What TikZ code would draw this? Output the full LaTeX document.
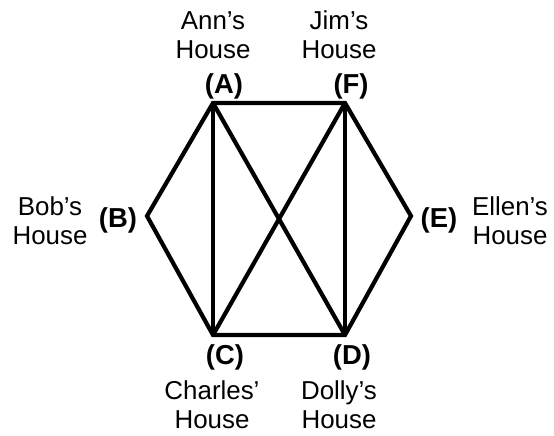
\documentclass[tikz,border=0pt]{standalone}
\usepackage{fontspec}
\setmainfont{Liberation Sans}
\begin{document}
\begin{tikzpicture}[x=1bp,y=-1bp,
  edge/.style={line width=4.2bp, line join=miter},
  lbl/.style={font=\bfseries\fontsize{27.5}{30}\selectfont, inner sep=0pt},
  house/.style={font=\fontsize{26}{29.5}\selectfont, align=center, inner sep=0pt}]
\useasboundingbox (0,0) rectangle (554,436);
\coordinate (A) at (213,103);
\coordinate (F) at (345,103);
\coordinate (B) at (147,216);
\coordinate (E) at (411,216);
\coordinate (C) at (213,335);
\coordinate (D) at (345,335);
\draw[edge] (A) -- (F) -- (E) -- (D) -- (C) -- (B) -- cycle;
\draw[edge] (A) -- (C);
\draw[edge] (A) -- (D);
\draw[edge] (F) -- (C);
\draw[edge] (F) -- (D);
\node[lbl] (la) at (224,86) {(A)};
\node[lbl] (lf) at (351,86) {(F)};
\node[lbl] (lb) at (118,220) {(B)};
\node[lbl] (le) at (439,220) {(E)};
\node[lbl] (lc) at (225,357) {(C)};
\node[lbl] (ld) at (352,357) {(D)};
\node[house] (ha) at (213,35) {Ann’s\\House};
\node[house] (hf) at (339,35) {Jim’s\\House};
\node[house] (hb) at (50,221) {Bob’s\\House};
\node[house] (he) at (510,221) {Ellen’s\\House};
\node[house] (hc) at (212,405) {Charles’\\House};
\node[house] (hd) at (339,405) {Dolly’s\\House};
\end{tikzpicture}
\end{document}
